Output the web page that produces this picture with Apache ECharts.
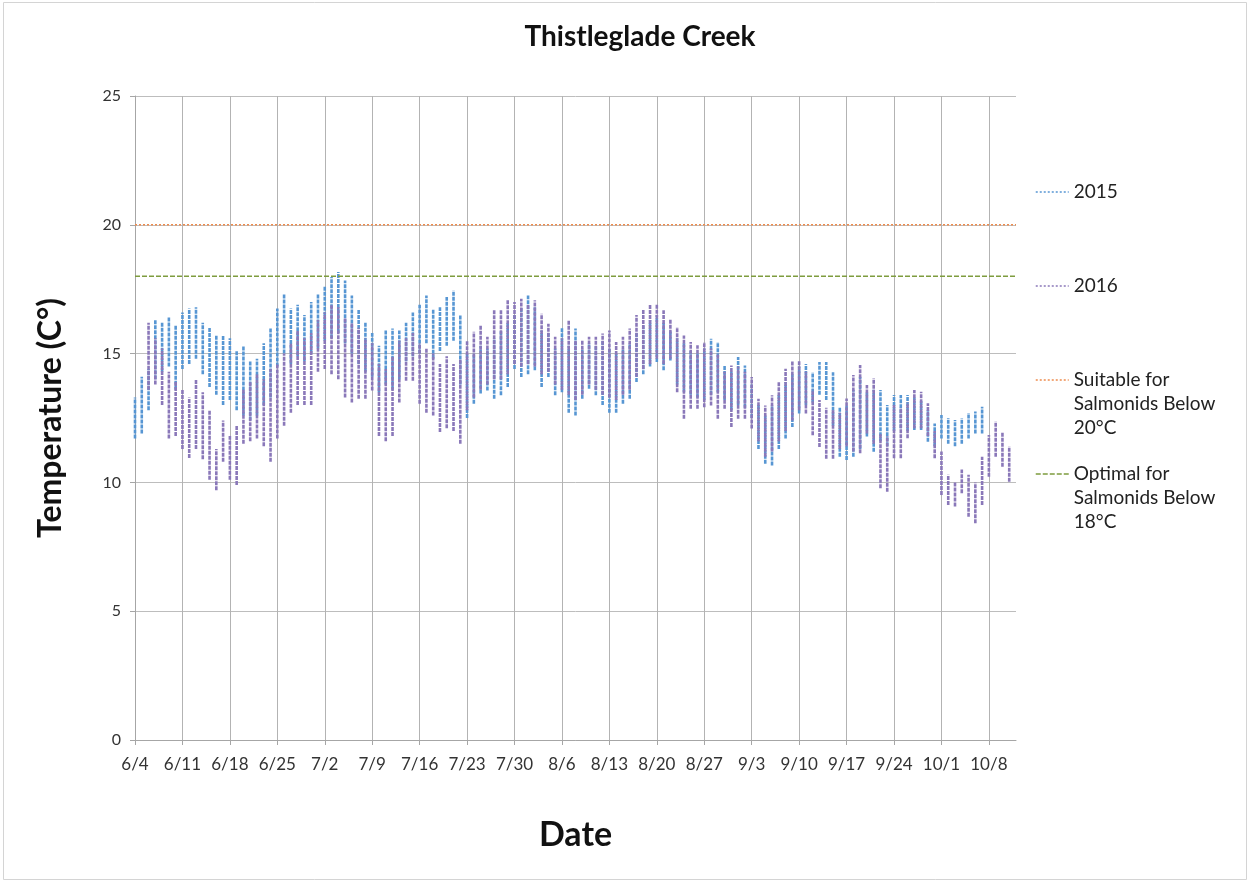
<!DOCTYPE html>
<html>
<head>
<meta charset="utf-8">
<title>Thistleglade Creek</title>
<script src="https://cdn.jsdelivr.net/npm/echarts@6/dist/echarts.min.js"></script>
<style>
  html, body { margin: 0; padding: 0; background: #fff; }
  #chart { width: 1251px; height: 884px; }
</style>
</head>
<body>
<div id="chart"></div>
<script>
// days from 6/4 to 10/12 (axis categories), labels shown every 7 days
const startMonth = 6, startDay = 4, dayCount = 131
const monthLengths = { 6: 30, 7: 31, 8: 31, 9: 30, 10: 31 }

// 2015 daily range (°C), index 0 = 6/4
const low2015 = [
  11.7, 11.9, 12.8, 14.0, 14.3, 14.5, 13.6, 14.4, 14.6, 14.8,
  14.2, 13.7, 13.4, 13.0, 13.2, 12.8, 12.6, 12.4, 12.6, 13.0,
  13.3, 14.5, 15.0, 14.6, 14.9, 14.7, 15.0, 15.2, 15.5, 15.6,
  15.8, 15.4, 15.0, 14.6, 14.3, 14.1, 13.5, 13.8, 13.6, 14.0,
  14.7, 14.9, 15.0, 15.4, 14.8, 15.1, 15.3, 15.5, 13.8, 12.5,
  13.05, 13.45, 13.57, 13.25, 13.38, 13.7, 14.4, 14.09, 14.2, 14.35,
  13.7, 14.09, 13.38, 13.5, 12.7, 12.6, 13.25, 13.64, 13.38, 13.0,
  12.7, 12.7, 13.05, 13.25, 13.9, 14.2, 14.5, 14.67, 14.35, 14.73,
  13.8, 13.5, 13.4, 13.3, 13.2, 13.4, 13.5, 13.2, 12.8, 13.0,
  12.9, 12.5, 11.3, 10.72, 10.66, 11.3, 11.7, 12.15, 12.67, 13.0,
  13.1, 13.4, 13.2, 12.2, 11.0, 10.87, 11.0, 11.3, 11.78, 11.19,
  11.6, 11.4, 12.0, 12.1, 12.0, 12.03, 12.03, 11.58, 11.4, 11.7,
  11.5, 11.4, 11.5, 11.7, 11.9, 11.9
]
const high2015 = [
  13.3, 14.1, 14.4, 16.3, 16.2, 16.4, 16.1, 16.6, 16.75, 16.8,
  16.2, 16.0, 15.7, 15.7, 15.6, 15.1, 15.3, 14.7, 14.8, 15.4,
  16.0, 16.75, 17.3, 16.75, 16.9, 16.5, 17.0, 17.3, 17.6, 17.97,
  18.17, 17.84, 17.26, 16.7, 16.2, 15.8, 15.3, 15.9, 15.97, 15.9,
  16.2, 16.6, 16.9, 17.26, 16.7, 16.8, 17.2, 17.45, 16.5, 15.0,
  15.0, 15.3, 15.2, 15.6, 15.9, 16.2, 16.5, 16.8, 17.26, 16.8,
  15.9, 15.8, 15.2, 16.0, 15.3, 15.97, 15.2, 15.4, 15.3, 15.5,
  15.2, 15.0, 15.2, 15.4, 15.8, 16.1, 16.3, 16.5, 16.2, 15.9,
  15.6, 15.4, 15.1, 15.0, 15.2, 15.58, 15.45, 14.54, 14.3, 14.87,
  14.54, 13.8, 13.0, 12.6, 13.0, 13.4, 13.9, 14.2, 14.5, 14.6,
  14.28, 14.67, 14.67, 14.28, 12.94, 13.0, 13.6, 14.1, 13.5, 13.6,
  13.59, 13.0, 13.39, 13.39, 13.39, 13.3, 13.2, 12.8, 12.29, 12.62,
  12.5, 12.42, 12.49, 12.69, 12.75, 12.94
]

// 2016 daily range (°C), starts at index 2 = 6/6
const offset2016 = 2
const low2016 = [
  13.6, 13.8, 13.0, 11.7, 11.8, 11.3, 10.95, 11.3,
  10.9, 10.1, 9.7, 10.8, 10.1, 9.9, 11.5, 11.6, 11.7, 11.4,
  10.8, 11.7, 12.2, 12.7, 13.0, 13.0, 13.0, 14.3, 14.4, 14.2,
  14.0, 13.3, 13.1, 13.25, 13.25, 13.57, 11.8, 11.6, 11.8, 13.1,
  13.95, 13.95, 13.05, 12.7, 12.6, 11.96, 12.1, 12.0, 11.5, 12.8,
  13.3, 13.6, 13.8, 14.0, 14.0, 14.2, 14.6, 14.5, 14.6, 14.5,
  14.2, 14.3, 13.8, 13.6, 13.4, 13.2, 13.4, 13.8, 13.6, 13.4,
  13.3, 13.2, 13.4, 13.6, 14.1, 14.4, 14.6, 14.8, 14.6, 14.8,
  13.5, 12.47, 12.86, 12.86, 12.92, 12.99, 12.47, 12.86, 12.15, 12.47,
  12.47, 12.09, 11.6, 11.0, 11.2, 11.6, 12.0, 12.4, 12.8, 12.67,
  11.83, 11.37, 10.92, 10.92, 11.3, 11.4, 11.2, 11.13, 11.9, 11.5,
  9.77, 9.64, 10.94, 10.94, 11.71, 12.1, 12.1, 11.8, 10.94, 9.51,
  9.12, 9.06, 9.58, 8.67, 8.41, 9.12, 10.22, 11.0, 10.61, 10.03
]
const high2016 = [
  16.2, 15.6, 15.2, 14.3, 13.9, 13.6, 13.3, 14.0,
  13.5, 12.8, 11.3, 12.4, 11.8, 12.2, 13.6, 13.9, 14.2, 14.0,
  14.4, 14.6, 15.0, 15.4, 15.9, 15.6, 15.8, 16.3, 16.6, 16.9,
  16.8, 16.4, 16.2, 16.0, 15.6, 15.4, 14.6, 14.4, 14.9, 15.5,
  15.6, 15.8, 15.4, 15.2, 15.0, 14.6, 14.9, 14.6, 14.8, 15.5,
  15.85, 16.1, 15.65, 16.7, 16.68, 17.07, 17.0, 17.13, 16.9, 17.07,
  16.55, 16.16, 15.65, 15.6, 16.3, 15.5, 15.5, 15.65, 15.65, 15.78,
  15.9, 15.45, 15.65, 15.97, 16.5, 16.7, 16.9, 16.94, 16.68, 16.35,
  16.03, 15.7, 15.45, 15.32, 15.45, 15.2, 15.0, 14.3, 14.54, 14.5,
  14.3, 14.09, 13.25, 12.99, 13.38, 13.9, 14.41, 14.73, 14.73, 14.3,
  13.6, 13.2, 12.9, 12.8, 12.7, 13.26, 14.17, 14.56, 13.78, 14.04,
  11.9, 11.8, 13.0, 12.9, 13.1, 13.59, 13.52, 13.07, 12.0, 11.2,
  10.3, 10.0, 10.5, 10.3, 10.0, 11.0, 11.84, 12.36, 11.97, 11.39
]

// thresholds (°C)
const suitableLimit = 20
const optimalLimit = 18

const seriesNames = [
  '2015',
  '2016',
  'Suitable for Salmonids Below 20°C',
  'Optimal for Salmonids Below 18°C',
]
// leading blank lines keep the icon level with the first text line
const legendText = {
  '2015': '2015',
  '2016': '2016',
  'Suitable for Salmonids Below 20°C': '\n\nSuitable for\nSalmonids Below\n20°C',
  'Optimal for Salmonids Below 18°C': '\n\nOptimal for\nSalmonids Below\n18°C',
}

const dateLabels = []
{
  let m = startMonth, d = startDay
  for (let i = 0; i < dayCount; i++) {
    dateLabels.push(m + '/' + d)
    d++
    if (d > monthLengths[m]) { d = 1; m++ }
  }
}

// each day becomes a vertical segment low -> high, broken with '-'
const rangeData = (lows, highs, offset) => {
  const out = []
  lows.forEach((lo, i) => {
    out.push([i + offset, lo], [i + offset, highs[i]], [i + offset, '-'])
  })
  return out
}

const fontFamily = 'Lato, "Open Sans", sans-serif'
const blue = '#5796D3'
const purple = '#8A78B9'
const orange = '#EE8C4E'
const green = '#7E9C3E'

const chart = echarts.init(document.getElementById('chart'))

const singleLegend = (name, top, color, dash) => ({
  orient: 'vertical',
  left: 1035,
  top: top,
  padding: 0,
  itemWidth: 33,
  itemHeight: 10,
  itemGap: 0,
  data: [name],
  formatter: n => legendText[n],
  itemStyle: { opacity: 0 },
  lineStyle: { color: color, width: 1.5, type: dash },
  textStyle: {
    fontFamily: fontFamily,
    fontSize: 19,
    color: '#222',
    lineHeight: 24,
  },
  selectedMode: false,
})

const option = {
  backgroundColor: '#fff',
  animation: false,
  title: {
    text: 'Thistleglade Creek',
    left: 635,
    textAlign: 'center',
    top: 18,
    textStyle: { fontFamily: fontFamily, fontSize: 28, fontWeight: 'bold', color: '#111' },
  },
  graphic: [
    {
      type: 'rect',
      shape: { x: 3.5, y: 2.5, width: 1243, height: 877 },
      style: { fill: 'none', stroke: '#d4d4d4', lineWidth: 1 },
      silent: true,
    },
  ],
  legend: [
    singleLegend(seriesNames[0], 180, blue, [2, 2]),
    singleLegend(seriesNames[1], 274, purple, [2, 2]),
    singleLegend(seriesNames[2], 320, orange, [2, 2]),
    singleLegend(seriesNames[3], 414, green, [5, 2]),
  ],
  grid: { left: 135, right: 235, top: 96, bottom: 144 },
  xAxis: {
    type: 'category',
    data: dateLabels,
    boundaryGap: false,
    name: 'Date',
    nameLocation: 'middle',
    nameGap: 78,
    nameTextStyle: { fontFamily: fontFamily, fontSize: 34, fontWeight: 'bold', color: '#111' },
    axisLine: { lineStyle: { color: '#a6a6a6' } },
    axisTick: { interval: 6, length: 5, lineStyle: { color: '#a6a6a6' } },
    axisLabel: { interval: 6, margin: 16, fontFamily: fontFamily, fontSize: 17, color: '#333' },
    splitLine: { show: true, interval: 6, lineStyle: { color: '#b3b3b3' } },
  },
  yAxis: {
    type: 'value',
    min: 0,
    max: 25,
    interval: 5,
    name: 'Temperature (C°)',
    nameLocation: 'middle',
    nameGap: 68,
    nameTextStyle: { fontFamily: fontFamily, fontSize: 32, fontWeight: 'bold', color: '#111' },
    axisLine: { show: true, lineStyle: { color: '#a6a6a6' } },
    axisTick: { show: true, length: 5, lineStyle: { color: '#a6a6a6' } },
    axisLabel: { margin: 14, fontFamily: fontFamily, fontSize: 16, color: '#333' },
    splitLine: { lineStyle: { color: '#bdbdbd' } },
  },
  series: [
    {
      name: seriesNames[0],
      type: 'line',
      data: rangeData(low2015, high2015, 0),
      symbol: 'none',
      connectNulls: false,
      color: blue,
      lineStyle: { color: blue, width: 2.6, type: [4, 1] },
      z: 2,
    },
    {
      name: seriesNames[1],
      type: 'line',
      data: rangeData(low2016, high2016, offset2016),
      symbol: 'none',
      connectNulls: false,
      color: purple,
      lineStyle: { color: purple, width: 2.6, type: [4, 1] },
      z: 3,
    },
    {
      name: seriesNames[2],
      type: 'line',
      data: [[0, suitableLimit], [dayCount - 1, suitableLimit]],
      symbol: 'none',
      color: orange,
      lineStyle: { color: orange, width: 1.5, type: [2, 2] },
      z: 4,
    },
    {
      name: seriesNames[3],
      type: 'line',
      data: [[0, optimalLimit], [dayCount - 1, optimalLimit]],
      symbol: 'none',
      color: green,
      lineStyle: { color: green, width: 1.5, type: [5, 2] },
      z: 4,
    },
  ],
}

chart.setOption(option)
window.addEventListener('resize', () => chart.resize())
</script>
</body>
</html>
